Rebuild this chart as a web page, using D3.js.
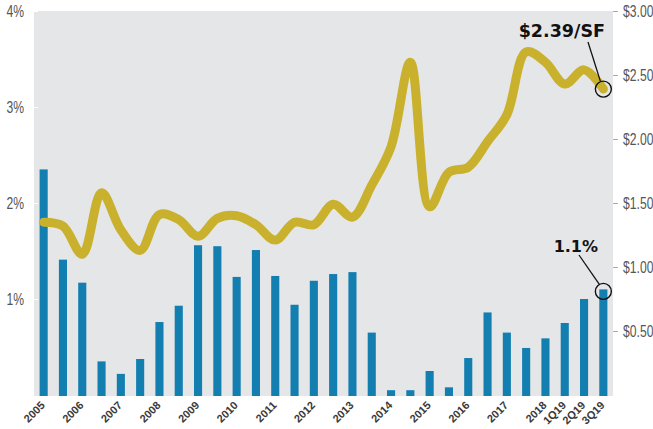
<!DOCTYPE html>
<html>
	<head>
		<script src="https://d3js.org/d3.v7.min.js" charset="utf-8"></script>
		<style>
			body { margin: 0; background: #fff; }
			.tickLabel { font-family: "Liberation Sans", Arial, sans-serif; font-size: 16px; fill: #555; }
			.xLabel { font-family: "Liberation Sans", Arial, sans-serif; font-size: 11px; font-weight: bold; fill: #3a3a3a; }
			.callout { font-family: "DejaVu Sans", sans-serif; font-weight: bold; fill: #111; }
		</style>
	</head>

	<body>
		<svg id="chart" width="653" height="429"></svg>

		<script>
			// periods (semi-annual, then quarterly)
			const periods = ["2005", "2005 H2", "2006", "2006 H2", "2007", "2007 H2", "2008", "2008 H2",
				"2009", "2009 H2", "2010", "2010 H2", "2011", "2011 H2", "2012", "2012 H2",
				"2013", "2013 H2", "2014", "2014 H2", "2015", "2015 H2", "2016", "2016 H2",
				"2017", "2017 H2", "2018", "1Q19", "2Q19", "3Q19"];
			const tickLabels = ["2005", "", "2006", "", "2007", "", "2008", "",
				"2009", "", "2010", "", "2011", "", "2012", "",
				"2013", "", "2014", "", "2015", "", "2016", "",
				"2017", "", "2018", "1Q19", "2Q19", "3Q19"];
			// vacancy rate, % (bars, left axis)
			const vacancy = [2.35, 1.41, 1.17, 0.35, 0.22, 0.375, 0.76, 0.93,
				1.56, 1.55, 1.23, 1.51, 1.24, 0.94, 1.19, 1.26,
				1.28, 0.65, 0.05, 0.05, 0.25, 0.08, 0.385, 0.86,
				0.65, 0.49, 0.59, 0.75, 1.0, 1.1];
			// asking rent, $/SF (line, right axis)
			const rent = [1.35, 1.32, 1.10, 1.58, 1.29, 1.13, 1.41, 1.37,
				1.24, 1.38, 1.40, 1.33, 1.21, 1.35, 1.33, 1.49,
				1.39, 1.64, 1.94, 2.60, 1.47, 1.74, 1.78, 1.98,
				2.19, 2.68, 2.60, 2.43, 2.54, 2.39];
			const pctTicks = [1, 2, 3, 4];
			const rentTicks = [0.5, 1.0, 1.5, 2.0, 2.5, 3.0];

			const svg = d3.select("#chart");
			const plot = {left: 34, right: 613, top: 11, bottom: 395};
			const squeeze = 0.76;  // condensed look for the axis numbers

			var x = d3.scaleBand()
				.domain(periods)
				.range([plot.left, plot.right])
				.paddingInner(0.58)
				.paddingOuter(0.29);
			var yPct = d3.scaleLinear().domain([0, 4]).range([plot.bottom, plot.top]);
			var yRent = d3.scaleLinear().domain([0, 3]).range([plot.bottom, plot.top]);

			// plot background
			svg.append("rect")
				.attr("x", plot.left)
				.attr("y", plot.top)
				.attr("width", plot.right - plot.left)
				.attr("height", plot.bottom - plot.top + 1)
				.attr("fill", "#e5e6e8");

			// bars
			svg.append("g").selectAll("rect")
				.data(periods)
				.enter()
				.append("rect")
				.attr("x", d => x(d))
				.attr("width", x.bandwidth())
				.attr("y", (d, i) => yPct(vacancy[i]))
				.attr("height", (d, i) => plot.bottom + 1 - yPct(vacancy[i]))
				.attr("fill", "#137fb1");

			// rent line
			var line = d3.line()
				.x((d, i) => x(periods[i]) + x.bandwidth() / 2)
				.y(d => yRent(d))
				.curve(d3.curveCatmullRom.alpha(0.5));
			svg.append("path")
				.datum(rent)
				.attr("d", line)
				.attr("fill", "none")
				.attr("stroke", "#c9b12d")
				.attr("stroke-width", 9)
				.attr("stroke-linecap", "round")
				.attr("stroke-linejoin", "round");

			// left axis
			var leftAxis = svg.append("g")
				.attr("transform", `translate(${plot.left}, 0)`)
				.call(d3.axisLeft(yPct).tickValues(pctTicks).tickSize(-4).tickFormat(d => d + "%"));
			leftAxis.select(".domain").remove();
			leftAxis.selectAll("line").attr("stroke", "#fff");
			leftAxis.selectAll("text")
				.attr("class", "tickLabel")
				.attr("x", 0)
				.attr("transform", `translate(-10, 0) scale(${squeeze}, 1)`);

			// right axis
			var rightAxis = svg.append("g")
				.attr("transform", `translate(${plot.right}, 0)`)
				.call(d3.axisRight(yRent).tickValues(rentTicks).tickSize(5).tickFormat(d => "$" + d.toFixed(2)));
			rightAxis.select(".domain").remove();
			rightAxis.selectAll("line").attr("stroke", "#aaa");
			rightAxis.selectAll("text")
				.attr("class", "tickLabel")
				.attr("x", 0)
				.attr("transform", `translate(10, 0) scale(${squeeze}, 1)`);

			// bottom axis, rotated labels
			var bottomAxis = svg.append("g")
				.attr("transform", `translate(0, ${plot.bottom})`)
				.call(d3.axisBottom(x).tickSize(0).tickFormat((d, i) => tickLabels[i]));
			bottomAxis.select(".domain").remove();
			bottomAxis.selectAll("text")
				.attr("class", "xLabel")
				.attr("x", 0)
				.attr("y", 0)
				.attr("dy", 0)
				.attr("text-anchor", "end")
				.attr("transform", "translate(2, 11) rotate(-45)");

			// callouts on the last period
			function callout(px, py, lx1, ly1, lx2, ly2, label, tx, ty, size) {
				svg.append("circle")
					.attr("cx", px).attr("cy", py).attr("r", 8)
					.attr("fill", "none").attr("stroke", "#111").attr("stroke-width", 1.4);
				svg.append("line")
					.attr("x1", lx1).attr("y1", ly1).attr("x2", lx2).attr("y2", ly2)
					.attr("stroke", "#111").attr("stroke-width", 1.3);
				svg.append("text")
					.attr("class", "callout")
					.attr("x", tx).attr("y", ty)
					.attr("text-anchor", "end")
					.style("font-size", size + "px")
					.text(label);
			}
			const last = periods.length - 1;
			var lastX = x(periods[last]) + x.bandwidth() / 2;
			callout(lastX, yRent(rent[last]), 588, 42, lastX - 3, yRent(rent[last]) - 8,
				"$" + rent[last].toFixed(2) + "/SF", 605, 37, 17.5);
			callout(lastX, yPct(vacancy[last]) + 2, 579, 255, lastX - 4, yPct(vacancy[last]) - 5,
				vacancy[last].toFixed(1) + "%", 598, 252, 16);
		</script>
	</body>
</html>
